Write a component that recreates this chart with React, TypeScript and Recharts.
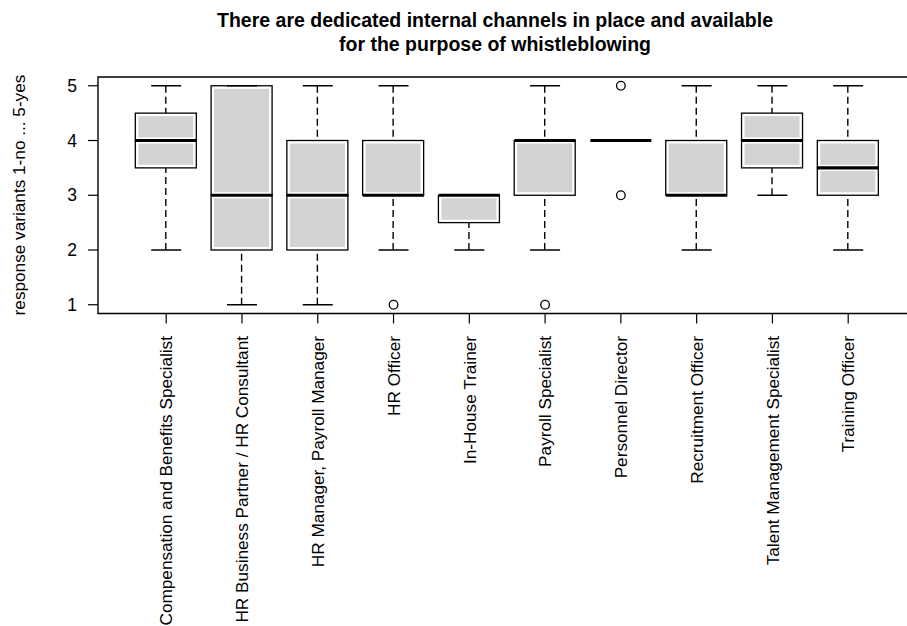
import React from 'react';
import { ComposedChart, Bar, Scatter, XAxis, YAxis, ReferenceArea } from 'recharts';

// Box statistics per job title
const categories = [
  'Compensation and Benefits Specialist',
  'HR Business Partner / HR Consultant',
  'HR Manager, Payroll Manager',
  'HR Officer',
  'In-House Trainer',
  'Payroll Specialist',
  'Personnel Director',
  'Recruitment Officer',
  'Talent Management Specialist',
  'Training Officer',
];
const mins = [2, 1, 1, 2, 2, 2, 4, 2, 3, 2];
const q1s = [3.5, 2, 2, 3, 2.5, 3, 4, 3, 3.5, 3];
const medians = [4, 3, 3, 3, 3, 4, 4, 3, 4, 3.5];
const q3s = [4.5, 5, 4, 4, 3, 4, 4, 4, 4.5, 4];
const maxs = [5, 5, 5, 5, 3, 5, 4, 5, 5, 5];
const outliers: number[][] = [[], [], [], [1], [], [1], [3, 5], [], [], []];
const yTicks = [1, 2, 3, 4, 5];
const xTicks = categories.map((_, i) => i + 1);

const FONT = '"Liberation Sans", Arial, sans-serif';
const BOX_HALF = 30.5;
const CAP_HALF = 15;

const boxRows = categories.map((name, i) => ({
  x: i + 1,
  name,
  base: mins[i],
  lowWhisker: q1s[i] - mins[i],
  lowBox: medians[i] - q1s[i],
  highBox: q3s[i] - medians[i],
  highWhisker: maxs[i] - q3s[i],
}));
const medianPoints = medians.map((m, i) => ({ x: i + 1, y: m }));
const capPoints = [
  ...mins.map((m, i) => ({ x: i + 1, y: m })),
  ...maxs.map((m, i) => ({ x: i + 1, y: m })),
];
const outlierPoints = outliers.flatMap((vals, i) => vals.map((v) => ({ x: i + 1, y: v })));

const Empty = () => <g />;

const LowWhisker = (p: any) => {
  if (!p.height) return <g />;
  const cx = p.x + p.width / 2;
  return (
    <line x1={cx} x2={cx} y1={p.y + p.height} y2={p.y} stroke="#000" strokeWidth={1.4} strokeDasharray="7 4" />
  );
};

const HighWhisker = (p: any) => {
  if (!p.height) return <g />;
  const cx = p.x + p.width / 2;
  return <line x1={cx} x2={cx} y1={p.y} y2={p.y + p.height} stroke="#000" strokeWidth={1.4} strokeDasharray="7 4" />;
};

const BoxHalf = (p: any) => {
  if (!p.height) return <g />;
  const cx = p.x + p.width / 2;
  const left = cx - BOX_HALF;
  const w = BOX_HALF * 2;
  const inset = 3;
  return (
    <g>
      <rect x={left} y={p.y} width={w} height={p.height} fill="#fff" stroke="#000" strokeWidth={1.3} />
      {p.height > inset * 2 && (
        <rect x={left + inset} y={p.y + inset} width={w - inset * 2} height={p.height - inset * 2} fill="#d3d3d3" />
      )}
    </g>
  );
};

const MedianShape = (p: any) => (
  <line x1={p.cx - BOX_HALF} x2={p.cx + BOX_HALF} y1={p.cy} y2={p.cy} stroke="#000" strokeWidth={3.2} />
);

const CapShape = (p: any) => (
  <line x1={p.cx - CAP_HALF} x2={p.cx + CAP_HALF} y1={p.cy} y2={p.cy} stroke="#000" strokeWidth={1.3} />
);

const OutlierShape = (p: any) => (
  <circle cx={p.cx} cy={p.cy} r={4.3} fill="#fff" stroke="#000" strokeWidth={1.3} />
);

const CategoryTick = (p: any) => {
  const name = categories[p.payload.value - 1];
  return (
    <g transform={`translate(${p.x},${p.y})`}>
      <text
        transform="rotate(-90)"
        x={-12.5}
        dy="0.36em"
        textAnchor="end"
        fontSize={17.2}
        fontFamily={FONT}
        fill="#000"
      >
        {name}
      </text>
    </g>
  );
};

export default function App() {
  return (
    <div
      style={{
        position: 'absolute',
        left: 0,
        top: 0,
        width: 907,
        height: 626,
        overflow: 'hidden',
        background: '#fff',
      }}
    >
      <ComposedChart
        width={930}
        height={626}
        data={boxRows}
        margin={{ top: 77, right: 13.6, bottom: 0, left: 0 }}
      >
        <XAxis
          type="number"
          dataKey="x"
          domain={[0.1, 10.9]}
          ticks={xTicks}
          interval={0}
          allowDataOverflow
          axisLine={false}
          tickLine={{ stroke: '#000', strokeWidth: 1.2 }}
          tickSize={10}
          tickMargin={0}
          height={312.5}
          tick={<CategoryTick />}
        />
        <YAxis
          type="number"
          domain={[0.84, 5.16]}
          ticks={yTicks}
          allowDataOverflow
          axisLine={false}
          tickLine={{ stroke: '#000', strokeWidth: 1.2 }}
          tickSize={10}
          tickMargin={11}
          width={98}
          tick={{ fill: '#000', fontSize: 17.5, fontFamily: FONT }}
        />
        <ReferenceArea
          x1={0.1}
          x2={10.9}
          y1={0.84}
          y2={5.16}
          fill="none"
          stroke="#000"
          strokeWidth={1.4}
          ifOverflow="visible"
        />
        <Bar dataKey="base" stackId="s" barSize={61} shape={<Empty />} isAnimationActive={false} />
        <Bar dataKey="lowWhisker" stackId="s" barSize={61} shape={<LowWhisker />} isAnimationActive={false} />
        <Bar dataKey="lowBox" stackId="s" barSize={61} shape={<BoxHalf />} isAnimationActive={false} />
        <Bar dataKey="highBox" stackId="s" barSize={61} shape={<BoxHalf />} isAnimationActive={false} />
        <Bar dataKey="highWhisker" stackId="s" barSize={61} shape={<HighWhisker />} isAnimationActive={false} />
        <Scatter data={capPoints} dataKey="y" shape={<CapShape />} isAnimationActive={false} />
        <Scatter data={medianPoints} dataKey="y" shape={<MedianShape />} isAnimationActive={false} />
        <Scatter data={outlierPoints} dataKey="y" shape={<OutlierShape />} isAnimationActive={false} />
      </ComposedChart>
      <svg
        width={907}
        height={626}
        style={{ position: 'absolute', left: 0, top: 0, pointerEvents: 'none' }}
      >
        <text x={495} y={27} textAnchor="middle" fontSize={19.5} fontWeight="bold" fontFamily={FONT} fill="#000">
          There are dedicated internal channels in place and available
        </text>
        <text x={495} y={50.5} textAnchor="middle" fontSize={19.5} fontWeight="bold" fontFamily={FONT} fill="#000">
          for the purpose of whistleblowing
        </text>
        <text
          transform="translate(19,195) rotate(-90)"
          dy="0.36em"
          textAnchor="middle"
          fontSize={17.2}
          fontFamily={FONT}
          fill="#000"
        >
          response variants 1-no ... 5-yes
        </text>
      </svg>
    </div>
  );
}
